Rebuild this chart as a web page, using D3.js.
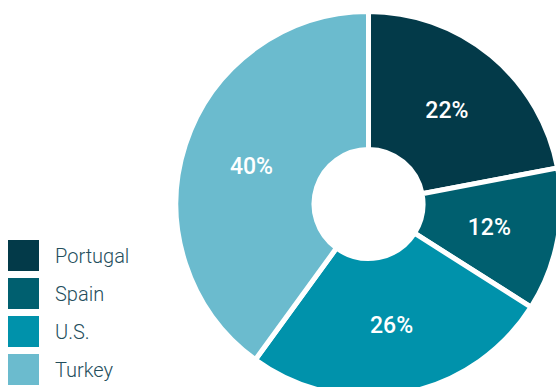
<!DOCTYPE html>
<html>
<head>
<meta charset="utf-8">
<script src="https://cdn.jsdelivr.net/npm/d3@7"></script>
<style>
  html, body { margin: 0; padding: 0; background: #ffffff; }
  svg { display: block; }
</style>
</head>
<body>
<script>
// Share of total, by country
const countries = ["Portugal", "Spain", "U.S.", "Turkey"];
const shares = [22, 12, 26, 40];
const colors = ["#033a49", "#005f6f", "#0092ab", "#6bbbce"];

const width = 556, height = 387;
const cx = 368.5, cy = 204;
const outerR = 192.5, innerR = 54.5;

const svg = d3.select("body").append("svg")
  .attr("width", width)
  .attr("height", height);

const color = d3.scaleOrdinal().domain(countries).range(colors);

const pie = d3.pie().value(d => d.value).sort(null);
const data = countries.map((c, i) => ({ name: c, value: shares[i] }));
const arcs = pie(data);

const arc = d3.arc().innerRadius(innerR).outerRadius(outerR);
const labelArc = d3.arc().innerRadius(123).outerRadius(123);

const g = svg.append("g").attr("transform", `translate(${cx},${cy})`);

g.selectAll("path.slice")
  .data(arcs)
  .join("path")
  .attr("class", "slice")
  .attr("d", arc)
  .attr("fill", d => color(d.data.name))
  .attr("stroke", "#ffffff")
  .attr("stroke-width", 5)
  .attr("stroke-linejoin", "miter");

g.selectAll("text.pct")
  .data(arcs)
  .join("text")
  .attr("class", "pct")
  .attr("transform", d => `translate(${labelArc.centroid(d)})`)
  .attr("text-anchor", "middle")
  .attr("dy", "0.36em")
  .attr("fill", "#ffffff")
  .attr("font-family", "Roboto, 'Liberation Sans', sans-serif")
  .attr("font-weight", 500)
  .attr("font-size", 23)
  .text(d => d.data.value + "%");

// Legend
const legend = svg.append("g").attr("transform", "translate(8,240)");
const item = legend.selectAll("g.item")
  .data(countries)
  .join("g")
  .attr("class", "item")
  .attr("transform", (d, i) => `translate(0,${i * 38})`);

item.append("rect")
  .attr("width", 31)
  .attr("height", 31)
  .attr("fill", d => color(d));

item.append("text")
  .attr("x", 47)
  .attr("y", 15.5)
  .attr("dy", "0.36em")
  .attr("fill", "#244e5c")
  .attr("font-family", "Roboto, 'Liberation Sans', sans-serif")
  .attr("font-weight", 300)
  .attr("font-size", 20)
  .text(d => d);
</script>
</body>
</html>
